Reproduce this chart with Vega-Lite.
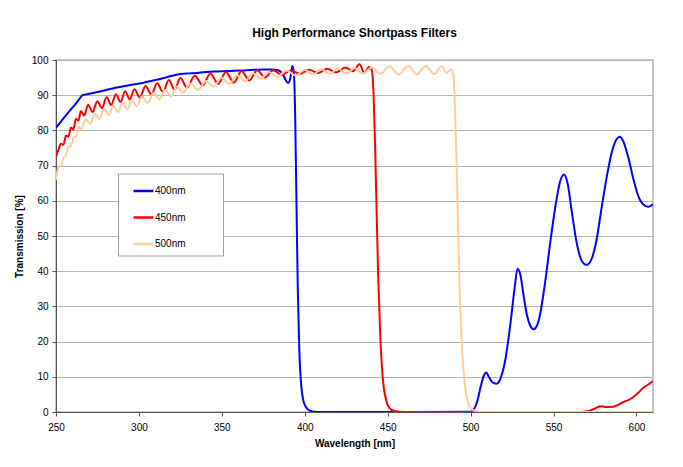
{
"$schema": "https://vega.github.io/schema/vega-lite/v6.json",
"width": 597, "height": 352,
"autosize": {"type": "none"},
"padding": {"left": 56, "top": 60, "right": 30, "bottom": 55},
"background": "white",
"title": {"text": "High Performance Shortpass Filters", "font": "Liberation Sans", "fontSize": 12, "fontWeight": "bold", "offset": 15, "anchor": "middle", "color": "black"},
"config": {"view": {"stroke": "#b4b4b4", "strokeWidth": 1.5}, "font": "Liberation Sans"},
"data": {"values": [
{"filter":"400nm","nm":250,"T":80.8},{"filter":"400nm","nm":253,"T":82.5},{"filter":"400nm","nm":256,"T":84.3},{"filter":"400nm","nm":259,"T":86},{"filter":"400nm","nm":262,"T":87.6},{"filter":"400nm","nm":264,"T":88.9},{"filter":"400nm","nm":266,"T":90},{"filter":"400nm","nm":270,"T":90.4},{"filter":"400nm","nm":275,"T":90.9},{"filter":"400nm","nm":280,"T":91.5},{"filter":"400nm","nm":285,"T":92},{"filter":"400nm","nm":290,"T":92.5},{"filter":"400nm","nm":295,"T":92.9},{"filter":"400nm","nm":300,"T":93.3},{"filter":"400nm","nm":305,"T":93.8},{"filter":"400nm","nm":310,"T":94.3},{"filter":"400nm","nm":315,"T":94.9},{"filter":"400nm","nm":320,"T":95.5},{"filter":"400nm","nm":325,"T":96},{"filter":"400nm","nm":330,"T":96.2},{"filter":"400nm","nm":335,"T":96.3},{"filter":"400nm","nm":340,"T":96.6},{"filter":"400nm","nm":345,"T":96.7},{"filter":"400nm","nm":350,"T":96.8},{"filter":"400nm","nm":355,"T":96.9},{"filter":"400nm","nm":360,"T":97},{"filter":"400nm","nm":365,"T":97.1},{"filter":"400nm","nm":370,"T":97.2},{"filter":"400nm","nm":375,"T":97.3},{"filter":"400nm","nm":380,"T":97.3},{"filter":"400nm","nm":384,"T":97.1},{"filter":"400nm","nm":386.5,"T":96.2},{"filter":"400nm","nm":388.5,"T":94.3},{"filter":"400nm","nm":390,"T":93.5},{"filter":"400nm","nm":391.3,"T":94.8},{"filter":"400nm","nm":392.5,"T":98.3},{"filter":"400nm","nm":393.4,"T":96.5},{"filter":"400nm","nm":394.2,"T":85},{"filter":"400nm","nm":395,"T":60},{"filter":"400nm","nm":395.8,"T":35},{"filter":"400nm","nm":396.7,"T":18},{"filter":"400nm","nm":398,"T":7},{"filter":"400nm","nm":400,"T":2},{"filter":"400nm","nm":403,"T":0.4},{"filter":"400nm","nm":408,"T":0},{"filter":"400nm","nm":450,"T":0},{"filter":"400nm","nm":500,"T":0.1},{"filter":"400nm","nm":502,"T":0.8},{"filter":"400nm","nm":504,"T":3},{"filter":"400nm","nm":506,"T":7},{"filter":"400nm","nm":508,"T":10.3},{"filter":"400nm","nm":509.5,"T":11.2},{"filter":"400nm","nm":511,"T":10},{"filter":"400nm","nm":513,"T":8.5},{"filter":"400nm","nm":515.5,"T":8},{"filter":"400nm","nm":518,"T":9.5},{"filter":"400nm","nm":521,"T":15},{"filter":"400nm","nm":524,"T":25},{"filter":"400nm","nm":526.5,"T":35},{"filter":"400nm","nm":528.3,"T":40.7},{"filter":"400nm","nm":530,"T":39},{"filter":"400nm","nm":532,"T":33},{"filter":"400nm","nm":534,"T":27.5},{"filter":"400nm","nm":536,"T":24.5},{"filter":"400nm","nm":538,"T":23.5},{"filter":"400nm","nm":540,"T":24.5},{"filter":"400nm","nm":542,"T":28},{"filter":"400nm","nm":545,"T":37},{"filter":"400nm","nm":548,"T":48},{"filter":"400nm","nm":551,"T":58},{"filter":"400nm","nm":554,"T":65.5},{"filter":"400nm","nm":556.3,"T":67.5},{"filter":"400nm","nm":558.5,"T":65},{"filter":"400nm","nm":561,"T":57},{"filter":"400nm","nm":564,"T":48},{"filter":"400nm","nm":567,"T":43},{"filter":"400nm","nm":570,"T":41.8},{"filter":"400nm","nm":573,"T":43.5},{"filter":"400nm","nm":576,"T":49},{"filter":"400nm","nm":579,"T":58},{"filter":"400nm","nm":582,"T":66.5},{"filter":"400nm","nm":585,"T":73.5},{"filter":"400nm","nm":588,"T":77.5},{"filter":"400nm","nm":590,"T":78.2},{"filter":"400nm","nm":592,"T":77},{"filter":"400nm","nm":595,"T":72.5},{"filter":"400nm","nm":598,"T":66.5},{"filter":"400nm","nm":601,"T":61.5},{"filter":"400nm","nm":604,"T":59},{"filter":"400nm","nm":607,"T":58.3},{"filter":"400nm","nm":610,"T":59},
{"filter":"450nm","nm":250,"T":72.5},{"filter":"450nm","nm":251.5,"T":74.5},{"filter":"450nm","nm":253,"T":76.2},{"filter":"450nm","nm":254.5,"T":75.9},{"filter":"450nm","nm":256,"T":78.5},{"filter":"450nm","nm":257.5,"T":78.2},{"filter":"450nm","nm":259,"T":80.8},{"filter":"450nm","nm":260.5,"T":80.3},{"filter":"450nm","nm":262,"T":83.3},{"filter":"450nm","nm":263.5,"T":82.8},{"filter":"450nm","nm":265,"T":85.5},{"filter":"450nm","nm":267,"T":84.2},{"filter":"450nm","nm":269.3,"T":87.3},{"filter":"450nm","nm":272.1,"T":85.2},{"filter":"450nm","nm":274.9,"T":88.3},{"filter":"450nm","nm":277.7,"T":86.3},{"filter":"450nm","nm":280.5,"T":89.4},{"filter":"450nm","nm":283.3,"T":87.2},{"filter":"450nm","nm":286.1,"T":90.3},{"filter":"450nm","nm":288.9,"T":88.1},{"filter":"450nm","nm":291.7,"T":91.1},{"filter":"450nm","nm":294.5,"T":88.8},{"filter":"450nm","nm":297.3,"T":91.7},{"filter":"450nm","nm":300.5,"T":89.3},{"filter":"450nm","nm":304,"T":92.6},{"filter":"450nm","nm":307.5,"T":90.2},{"filter":"450nm","nm":311,"T":93.4},{"filter":"450nm","nm":314.5,"T":90.9},{"filter":"450nm","nm":318,"T":94.3},{"filter":"450nm","nm":321.5,"T":91.6},{"filter":"450nm","nm":325,"T":94.9},{"filter":"450nm","nm":329,"T":92.2},{"filter":"450nm","nm":333.7,"T":95.5},{"filter":"450nm","nm":338.4,"T":92.8},{"filter":"450nm","nm":343.1,"T":96.2},{"filter":"450nm","nm":347.8,"T":93.2},{"filter":"450nm","nm":352.5,"T":96.6},{"filter":"450nm","nm":357.2,"T":93.6},{"filter":"450nm","nm":361.9,"T":96.9},{"filter":"450nm","nm":366.6,"T":94.2},{"filter":"450nm","nm":371.3,"T":97.1},{"filter":"450nm","nm":376,"T":95},{"filter":"450nm","nm":381,"T":97.1},{"filter":"450nm","nm":386,"T":95.8},{"filter":"450nm","nm":391.5,"T":97},{"filter":"450nm","nm":397,"T":96.1},{"filter":"450nm","nm":402.5,"T":97.2},{"filter":"450nm","nm":408,"T":96.3},{"filter":"450nm","nm":413.5,"T":97.5},{"filter":"450nm","nm":419,"T":96.5},{"filter":"450nm","nm":424.5,"T":97.9},{"filter":"450nm","nm":429,"T":96.8},{"filter":"450nm","nm":433,"T":98.8},{"filter":"450nm","nm":436,"T":96.3},{"filter":"450nm","nm":438.7,"T":98},{"filter":"450nm","nm":440.5,"T":97},{"filter":"450nm","nm":441.5,"T":90},{"filter":"450nm","nm":442.3,"T":78},{"filter":"450nm","nm":443.2,"T":60},{"filter":"450nm","nm":444.2,"T":40},{"filter":"450nm","nm":445.5,"T":22},{"filter":"450nm","nm":447,"T":10},{"filter":"450nm","nm":449,"T":3.5},{"filter":"450nm","nm":451,"T":1.2},{"filter":"450nm","nm":454,"T":0.3},{"filter":"450nm","nm":460,"T":0},{"filter":"450nm","nm":565,"T":0},{"filter":"450nm","nm":568,"T":0.1},{"filter":"450nm","nm":572,"T":0.4},{"filter":"450nm","nm":575,"T":1},{"filter":"450nm","nm":577,"T":1.5},{"filter":"450nm","nm":579,"T":1.6},{"filter":"450nm","nm":582,"T":1.4},{"filter":"450nm","nm":586,"T":1.5},{"filter":"450nm","nm":589,"T":2},{"filter":"450nm","nm":592,"T":2.8},{"filter":"450nm","nm":596,"T":3.6},{"filter":"450nm","nm":600,"T":5},{"filter":"450nm","nm":604,"T":6.8},{"filter":"450nm","nm":608,"T":8.1},{"filter":"450nm","nm":610,"T":8.8},
{"filter":"500nm","nm":250,"T":66},{"filter":"500nm","nm":251.5,"T":69.5},{"filter":"500nm","nm":253,"T":70},{"filter":"500nm","nm":254.5,"T":72.3},{"filter":"500nm","nm":256,"T":72.8},{"filter":"500nm","nm":257.5,"T":75.3},{"filter":"500nm","nm":259,"T":75.6},{"filter":"500nm","nm":260.5,"T":78},{"filter":"500nm","nm":262,"T":78.3},{"filter":"500nm","nm":263.8,"T":81},{"filter":"500nm","nm":265.3,"T":80.4},{"filter":"500nm","nm":267.8,"T":83.2},{"filter":"500nm","nm":270.6,"T":81.8},{"filter":"500nm","nm":273.4,"T":84.7},{"filter":"500nm","nm":276.2,"T":83.2},{"filter":"500nm","nm":279,"T":86.2},{"filter":"500nm","nm":281.8,"T":84.4},{"filter":"500nm","nm":284.6,"T":87},{"filter":"500nm","nm":287.4,"T":85.2},{"filter":"500nm","nm":290.2,"T":88},{"filter":"500nm","nm":293,"T":86},{"filter":"500nm","nm":295.8,"T":88.7},{"filter":"500nm","nm":298.6,"T":86.8},{"filter":"500nm","nm":301.8,"T":89.6},{"filter":"500nm","nm":305.3,"T":87.8},{"filter":"500nm","nm":308.8,"T":90.6},{"filter":"500nm","nm":312.3,"T":88.8},{"filter":"500nm","nm":315.8,"T":91.5},{"filter":"500nm","nm":319.3,"T":89.7},{"filter":"500nm","nm":322.8,"T":92.5},{"filter":"500nm","nm":326.5,"T":90.7},{"filter":"500nm","nm":331,"T":93.3},{"filter":"500nm","nm":335.7,"T":91.5},{"filter":"500nm","nm":340.4,"T":94},{"filter":"500nm","nm":345.1,"T":92.5},{"filter":"500nm","nm":349.8,"T":95},{"filter":"500nm","nm":354.5,"T":93.2},{"filter":"500nm","nm":359.2,"T":95.7},{"filter":"500nm","nm":363.9,"T":93.9},{"filter":"500nm","nm":368.6,"T":96.3},{"filter":"500nm","nm":373.3,"T":94.6},{"filter":"500nm","nm":378.3,"T":96.6},{"filter":"500nm","nm":383.5,"T":95.2},{"filter":"500nm","nm":389,"T":97},{"filter":"500nm","nm":394.5,"T":95.6},{"filter":"500nm","nm":400,"T":97.2},{"filter":"500nm","nm":405,"T":95.9},{"filter":"500nm","nm":410,"T":97.4},{"filter":"500nm","nm":415,"T":96},{"filter":"500nm","nm":420,"T":97.6},{"filter":"500nm","nm":425,"T":96.1},{"filter":"500nm","nm":430,"T":97.7},{"filter":"500nm","nm":435,"T":96.1},{"filter":"500nm","nm":440.5,"T":97.9},{"filter":"500nm","nm":445.7,"T":96.1},{"filter":"500nm","nm":451,"T":98.2},{"filter":"500nm","nm":456.5,"T":95.9},{"filter":"500nm","nm":462.5,"T":98.3},{"filter":"500nm","nm":467.5,"T":95.9},{"filter":"500nm","nm":473,"T":98.3},{"filter":"500nm","nm":478,"T":96},{"filter":"500nm","nm":482.5,"T":98.2},{"filter":"500nm","nm":485.5,"T":96.3},{"filter":"500nm","nm":488.3,"T":97.4},{"filter":"500nm","nm":489.5,"T":96},{"filter":"500nm","nm":490.5,"T":88},{"filter":"500nm","nm":491.5,"T":72},{"filter":"500nm","nm":492.5,"T":52},{"filter":"500nm","nm":493.5,"T":33},{"filter":"500nm","nm":495,"T":17},{"filter":"500nm","nm":496.5,"T":8},{"filter":"500nm","nm":498,"T":3.5},{"filter":"500nm","nm":500,"T":1.2},{"filter":"500nm","nm":503,"T":0.3},{"filter":"500nm","nm":508,"T":0},{"filter":"500nm","nm":610,"T":0}
]},
"mark": {"type": "line", "interpolate": "monotone", "strokeWidth": 2, "clip": true},
"encoding": {
 "x": {"field": "nm", "type": "quantitative", "scale": {"domain": [250, 610], "nice": false, "zero": false},
   "axis": {"title": "Wavelength [nm]", "values": [250,300,350,400,450,500,550,600], "grid": false, "labelFlush": false, "domainColor": "#555555", "tickColor": "#555555", "tickSize": 4, "labelFont": "Liberation Sans", "labelFontSize": 10, "labelColor": "black", "labelPadding": 6, "titleFont": "Liberation Sans", "titleFontSize": 10, "titleFontWeight": "bold", "titlePadding": 6, "titleColor": "black"}},
 "y": {"field": "T", "type": "quantitative", "scale": {"domain": [0, 100], "nice": false},
   "axis": {"title": "Transmission [%]", "values": [0,10,20,30,40,50,60,70,80,90,100], "grid": true, "labelFlush": false, "gridColor": "#b4b4b4", "gridWidth": 1, "domainColor": "#555555", "tickColor": "#555555", "tickSize": 4, "labelFont": "Liberation Sans", "labelFontSize": 10, "labelColor": "black", "labelPadding": 4, "titleFont": "Liberation Sans", "titleFontSize": 10, "titleFontWeight": "bold", "titlePadding": 7, "titleColor": "black"}},
 "color": {"field": "filter", "type": "nominal",
   "scale": {"domain": ["400nm","450nm","500nm"], "range": ["#0000ff","#ff0000","#ffcc99"]},
   "legend": {"title": null, "orient": "none", "legendX": 62, "legendY": 113.5, "direction": "vertical", "symbolType": "stroke", "symbolSize": 400, "symbolStrokeWidth": 2.5, "symbolOffset": 8, "labelFont": "Liberation Sans", "labelFontSize": 10, "labelColor": "black", "labelOffset": 0, "rowPadding": 9.5, "padding": 6, "strokeColor": "#a0a0a0", "fillColor": "white", "labelExpr": "datum.label + '\u00a0\u00a0\u00a0\u00a0\u00a0\u00a0\u00a0\u00a0\u00a0\u00a0\u00a0\u200b'"}}
}
}
